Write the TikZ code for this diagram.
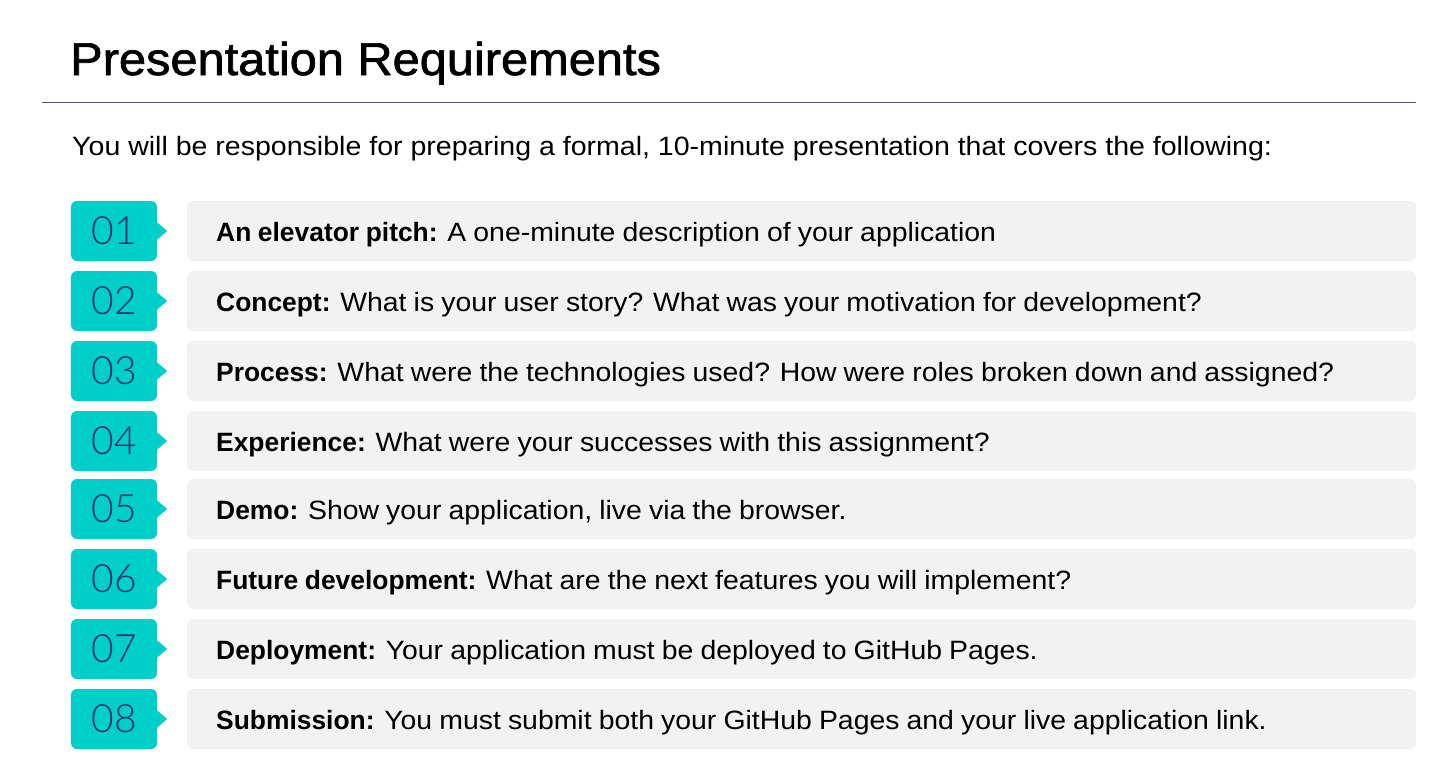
\documentclass[tikz,border=0pt]{standalone}
\usepackage{fontspec}
\setmainfont{Liberation Sans}
\newfontfamily\numfont{Lato}[UprightFont={* Light}]
\newfontfamily\titlefont{Liberation Sans}[FakeStretch=1.06, FakeBold=1.5]
\newfontfamily\introfont{Liberation Sans}[FakeStretch=1.077]
\newfontfamily\rowfont{Liberation Sans}[UprightFeatures={FakeStretch=1.072}, BoldFeatures={FakeStretch=0.996}, WordSpace=0.9]
\definecolor{tealc}{HTML}{00CFC9}
\definecolor{boxgray}{HTML}{F2F2F2}
\definecolor{rulecol}{HTML}{4E566C}
\definecolor{numcol}{HTML}{1B3566}
\tikzset{
  tealbox/.style={fill=tealc, rounded corners=6pt, minimum width=86pt, minimum height=60pt, inner sep=0pt, text=numcol, font=\numfont\fontsize{39}{42}\selectfont},
  graybox/.style={fill=boxgray, rounded corners=6pt, minimum width=1229pt, minimum height=60pt, inner sep=0pt},
  rowtxt/.style={anchor=base west, inner sep=0pt, font=\rowfont\fontsize{26.5}{30}\selectfont},
}
\begin{document}
\begin{tikzpicture}[x=1pt,y=-1pt]
\fill[white] (0,0) rectangle (1429,776);
\useasboundingbox (0,0) rectangle (1429,776);
\node[anchor=base west, inner sep=0pt, font=\titlefont\fontsize{46}{50}\selectfont] (title) at (70,75) {Presentation Requirements};
\coordinate (rl) at (42,102.5);
\coordinate (rr) at (1416,102.5);
\draw[rulecol, line width=1.5pt] (rl) -- (rr);
\node[anchor=base west, inner sep=0pt, font=\introfont\fontsize{26.5}{30}\selectfont] (intro) at (72,155.5) {You will be responsible for preparing a formal, 10-minute presentation that covers the following:};
\foreach \i/\y/\lab/\txt in {
  01/231/{An elevator pitch:}/{A one-minute description of your application},
  02/301/{Concept:}/{What is your user story? What was your motivation for development?},
  03/371/{Process:}/{What were the technologies used? How were roles broken down and assigned?},
  04/441/{Experience:}/{What were your successes with this assignment?},
  05/509/{Demo:}/{Show your application, live via the browser.},
  06/579/{Future development:}/{What are the next features you will implement?},
  07/649/{Deployment:}/{Your application must be deployed to GitHub Pages.},
  08/719/{Submission:}/{You must submit both your GitHub Pages and your live application link.}}{
  \node[tealbox] (n\i) at (114,\y) {\i};
  \fill[tealc] ([yshift=8.5pt]n\i.east) -- ([xshift=10pt]n\i.east) -- ([yshift=-8.5pt]n\i.east) -- cycle;
  \node[graybox] (b\i) at (801.5,\y) {};
  \node[rowtxt] (t\i) at (216,\y+10) {\textbf{\lab} \txt};
}
\end{tikzpicture}
\end{document}
